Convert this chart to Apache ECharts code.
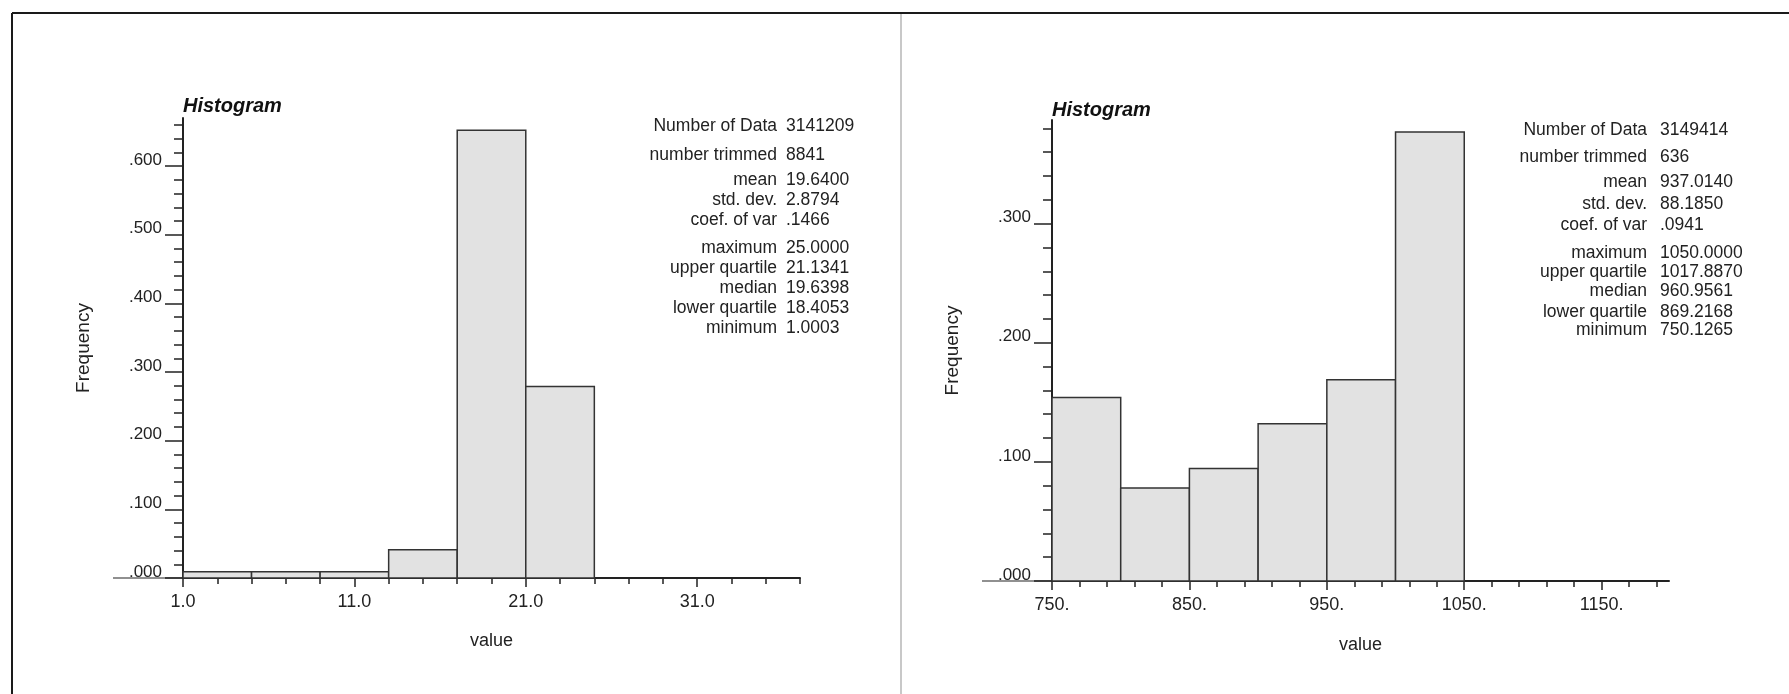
<!DOCTYPE html>
<html>
<head>
<meta charset="utf-8">
<script src="https://cdn.jsdelivr.net/npm/echarts@6/dist/echarts.min.js"></script>
<style>
html, body { margin: 0; padding: 0; background: #fff; }
#main { width: 1789px; height: 694px; }
</style>
</head>
<body>
<div id="main"></div>
<script>
// ---- left panel data ----
var binEdgesL = [1, 5, 9, 13, 17, 21, 25];
var freqL = [0.009, 0.009, 0.009, 0.041, 0.652, 0.279];
var xLabelsL = [1, 11, 21, 31];
var yLabelsL = [0, 0.1, 0.2, 0.3, 0.4, 0.5, 0.6];
var statValuesL = ['3141209', '8841', '19.6400', '2.8794', '.1466', '25.0000', '21.1341', '19.6398', '18.4053', '1.0003'];

// ---- right panel data ----
var binEdgesR = [750, 800, 850, 900, 950, 1000, 1050];
var freqR = [0.154, 0.078, 0.0945, 0.132, 0.169, 0.377];
var xLabelsR = [750, 850, 950, 1050, 1150];
var yLabelsR = [0, 0.1, 0.2, 0.3];
var statValuesR = ['3149414', '636', '937.0140', '88.1850', '.0941', '1050.0000', '1017.8870', '960.9561', '869.2168', '750.1265'];

var statNames = ['Number of Data', 'number trimmed', 'mean', 'std. dev.', 'coef. of var',
                 'maximum', 'upper quartile', 'median', 'lower quartile', 'minimum'];

var FONT = '"Liberation Sans", Arial, Helvetica, sans-serif';
var INK = '#222';

function steps(a, b, s) {
    var out = [];
    for (var v = a; v <= b + 1e-9; v += s) out.push(+v.toFixed(4));
    return out;
}

function binData(edges, freq) {
    var d = [];
    for (var i = 0; i < freq.length; i++) d.push([edges[i], edges[i + 1], freq[i]]);
    return d;
}

function histItem(params, api) {
    var p0 = api.coord([api.value(0), api.value(2)]);
    var p1 = api.coord([api.value(1), 0]);
    return {
        type: 'rect',
        shape: { x: p0[0], y: p0[1], width: p1[0] - p0[0], height: p1[1] - p0[1] },
        style: { fill: '#e2e2e2', stroke: '#333', lineWidth: 1.5 }
    };
}

var axisLineStyle = { show: true, lineStyle: { color: INK, width: 2 } };

function mainX(grid, min, max, labels, fmt, gap) {
    return {
        type: 'value', gridIndex: grid, min: min, max: max,
        name: 'value', nameLocation: 'middle', nameGap: gap,
        nameTextStyle: { fontFamily: FONT, fontSize: 18, color: INK },
        axisLine: axisLineStyle,
        axisTick: { show: true, length: 9, customValues: labels, lineStyle: { color: INK, width: 1.5 } },
        axisLabel: { customValues: labels, formatter: fmt, margin: 15, fontFamily: FONT, fontSize: 18, color: INK },
        splitLine: { show: false }
    };
}
function minorX(grid, min, max, ticks) {
    return {
        type: 'value', gridIndex: grid, min: min, max: max, position: 'bottom',
        axisLine: { show: false },
        axisTick: { show: true, length: 6, customValues: ticks, lineStyle: { color: INK, width: 1.5 } },
        axisLabel: { show: false },
        splitLine: { show: false }
    };
}
function mainY(grid, max, labels) {
    return {
        type: 'value', gridIndex: grid, min: 0, max: max,
        name: 'Frequency', nameLocation: 'middle', nameGap: 90,
        nameTextStyle: { fontFamily: FONT, fontSize: 19, color: INK },
        axisLine: axisLineStyle,
        axisTick: { show: true, length: 18, customValues: labels, lineStyle: { color: INK, width: 1.5 } },
        axisLabel: {
            customValues: labels, margin: 21, verticalAlign: 'bottom', lineHeight: 12,
            fontFamily: FONT, fontSize: 17, color: INK,
            formatter: function (v) { return v.toFixed(3).replace(/^0/, ''); }
        },
        splitLine: { show: false }
    };
}
function minorY(grid, max, ticks) {
    return {
        type: 'value', gridIndex: grid, min: 0, max: max, position: 'left',
        axisLine: { show: false },
        axisTick: { show: true, length: 9, customValues: ticks, lineStyle: { color: INK, width: 1.5 } },
        axisLabel: { show: false },
        splitLine: { show: false }
    };
}

// stats block as graphic texts
var rowYL = [126, 155, 180, 200, 220, 248, 268, 288, 308, 328];
var rowYR = [130, 157, 182, 204, 225, 253, 272, 291, 312, 330];
function statsBlock(xName, xVal, rows, values) {
    var g = [];
    for (var i = 0; i < statNames.length; i++) {
        g.push({ type: 'text', x: xName, y: rows[i],
            style: { text: statNames[i], align: 'right', verticalAlign: 'middle', font: '17.5px ' + FONT, fill: INK } });
        g.push({ type: 'text', x: xVal, y: rows[i],
            style: { text: values[i], align: 'left', verticalAlign: 'middle', font: '17.5px ' + FONT, fill: INK } });
    }
    return g;
}

var graphics = [
    { type: 'line', shape: { x1: 12, y1: 13, x2: 1789, y2: 13 }, style: { stroke: '#1a1a1a', lineWidth: 2 } },
    { type: 'line', shape: { x1: 12, y1: 13, x2: 12, y2: 694 }, style: { stroke: '#1a1a1a', lineWidth: 2 } },
    { type: 'line', shape: { x1: 901, y1: 14, x2: 901, y2: 694 }, style: { stroke: '#c8c8c8', lineWidth: 2 } },
    // x axis lines run a little left of the y axis
    { type: 'line', shape: { x1: 113, y1: 578, x2: 183, y2: 578 }, style: { stroke: INK, lineWidth: 1.2 } },
    { type: 'line', shape: { x1: 982, y1: 581, x2: 1052, y2: 581 }, style: { stroke: INK, lineWidth: 1.2 } }
].concat(statsBlock(777, 786, rowYL, statValuesL), statsBlock(1647, 1660, rowYR, statValuesR));

var titleStyle = { fontFamily: FONT, fontSize: 20, fontWeight: 'bold', fontStyle: 'italic', color: '#111' };

var option = {
    animation: false,
    backgroundColor: '#fff',
    title: [
        { text: 'Histogram', left: 183, top: 96, padding: 0, textStyle: titleStyle },
        { text: 'Histogram', left: 1052, top: 100, padding: 0, textStyle: titleStyle }
    ],
    grid: [
        { left: 183, top: 118, width: 617, height: 460, outerBoundsMode: 'none' },
        { left: 1052, top: 120, width: 617, height: 461, outerBoundsMode: 'none' }
    ],
    xAxis: [
        mainX(0, 1, 37, xLabelsL, function (v) { return v.toFixed(1); }, 54.5),
        minorX(0, 1, 37, steps(1, 37, 2)),
        mainX(1, 750, 1199, xLabelsR, function (v) { return v + '.'; }, 55.5),
        minorX(1, 750, 1199, steps(750, 1190, 20))
    ],
    yAxis: [
        mainY(0, 0.67, yLabelsL),
        minorY(0, 0.67, steps(0, 0.66, 0.02)),
        mainY(1, 0.387, yLabelsR),
        minorY(1, 0.387, steps(0, 0.38, 0.02))
    ],
    graphic: graphics,
    series: [
        { type: 'custom', xAxisIndex: 0, yAxisIndex: 0, renderItem: histItem, data: binData(binEdgesL, freqL), z: 1 },
        { type: 'custom', xAxisIndex: 2, yAxisIndex: 2, renderItem: histItem, data: binData(binEdgesR, freqR), z: 1 }
    ]
};

var chart = echarts.init(document.getElementById('main'));
chart.setOption(option);
</script>
</body>
</html>
